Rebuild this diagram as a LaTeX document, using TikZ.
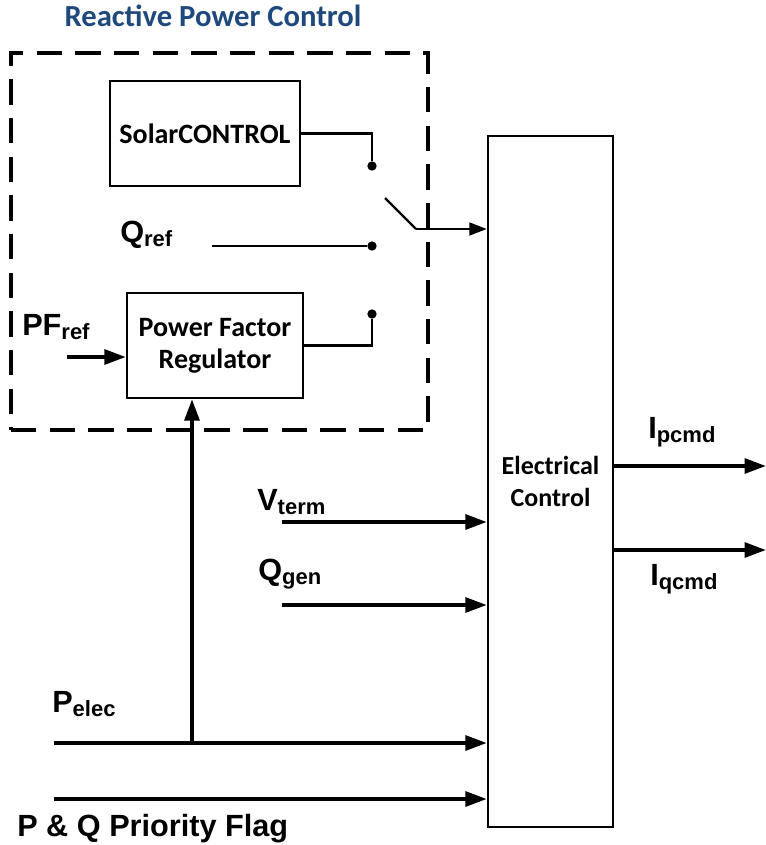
\documentclass[tikz,border=0pt]{standalone}
\usepackage{fontspec}
\setmainfont{Liberation Sans}
\newfontfamily\calibri{Carlito}
\usetikzlibrary{arrows.meta,positioning,fit}

\definecolor{titleblue}{RGB}{31,73,125}
\newcommand{\siglbl}[2]{\textbf{#1\raisebox{-3.5pt}{\fontsize{16.5}{18}\selectfont #2}}}

\tikzset{
  block/.style={draw, line width=1.8pt, inner sep=0pt},
  blocktext/.style={align=center,
    font=\calibri\bfseries\fontsize{21}{24}\selectfont},
  dashbox/.style={draw, line width=2.5pt, dash pattern=on 19pt off 10pt, inner sep=0pt},
  sig/.style={line width=2.8pt, -{Triangle[length=16pt,width=11pt]}},
  wire/.style={line width=1.8pt},
  lbl/.style={anchor=base west, inner sep=0pt, font=\fontsize{23}{26}\selectfont},
  contact/.style={circle, fill, inner sep=0pt, minimum size=7pt}
}

\begin{document}
\begin{tikzpicture}[x=0.75pt, y=-0.75pt]
  \useasboundingbox (0,0) rectangle (766,845);

  % reactive power control group
  \node[anchor=base, text=titleblue, font=\calibri\bfseries\fontsize{23}{26}\selectfont] (title) at (213,27) {Reactive Power Control};
  \coordinate (rpcNW) at (11,53);
  \coordinate (rpcSE) at (428,430);
  \node[dashbox, fit=(rpcNW)(rpcSE)] (rpc) {};

  \coordinate (solNW) at (110,81);
  \coordinate (solSE) at (300,186);
  \node[block, fit=(solNW)(solSE)] (solar) {};
  \node[blocktext] (soltxt) at (solar.center) {SolarCONTROL};

  \coordinate (pfrNW) at (127,293);
  \coordinate (pfrSE) at (303,398);
  \node[block, fit=(pfrNW)(pfrSE)] (pfr) {};
  \node[blocktext] (pfrtxt) at (pfr.center) {Power Factor\\Regulator};

  \coordinate (ecNW) at (488,136);
  \coordinate (ecSE) at (613,827);
  \node[block, fit=(ecNW)(ecSE)] (elec) {};
  \node[blocktext, font=\calibri\bfseries\fontsize{19.5}{24}\selectfont] (electxt) at (elec.center) {Electrical\\Control};

  % selector switch
  \node[contact] (d1) at (372,166) {};
  \node[contact] (d2) at (372,246) {};
  \node[contact] (d3) at (372,314) {};
  \coordinate (pivot) at (416,229);
  \coordinate (blade) at (385,198);
  \coordinate (qrefin) at (212,246);

  \draw[wire] (solar.east) -| (d1);
  \draw[wire] (qrefin) -- (d2);
  \draw[wire] (pfr.east) -| (d3);
  \draw[wire] (blade) -- (pivot);
  \draw[wire, -{Triangle[length=13pt,width=9.5pt]}] (pivot) -- (pivot -| elec.west);

  % inputs
  \coordinate (pfin) at (67,357);
  \coordinate (vin) at (282,522);
  \coordinate (qin) at (282,605);
  \coordinate (pin) at (54,743);
  \coordinate (tap) at (192,743);
  \coordinate (fin) at (54,799);
  \draw[sig] (pfin) -- (pfin -| pfr.west);
  \draw[sig] (tap) -- (tap |- pfr.south);
  \foreach \src in {vin, qin, pin, fin}
    \draw[sig] (\src) -- (\src -| elec.west);

  % outputs
  \coordinate (ipout) at (766,466);
  \coordinate (iqout) at (766,550);
  \draw[sig] (ipout -| elec.east) -- (ipout);
  \draw[sig] (iqout -| elec.east) -- (iqout);

  % labels
  \node[lbl] (qreflbl) at (120,242) {\siglbl{Q}{ref}};
  \node[lbl] (pfreflbl) at (22,335) {\siglbl{PF}{ref}};
  \node[lbl] (vtermlbl) at (257,510) {\siglbl{V}{term}};
  \node[lbl] (qgenlbl) at (258,580) {\siglbl{Q}{gen}};
  \node[lbl] (peleclbl) at (52,712) {\siglbl{P}{elec}};
  \node[lbl] (flaglbl) at (17,836) {\textbf{P \& Q Priority Flag}};
  \node[lbl] (iplbl) at (648,438) {\siglbl{I}{pcmd}};
  \node[lbl] (iqlbl) at (650,585) {\siglbl{I}{qcmd}};
\end{tikzpicture}
\end{document}
